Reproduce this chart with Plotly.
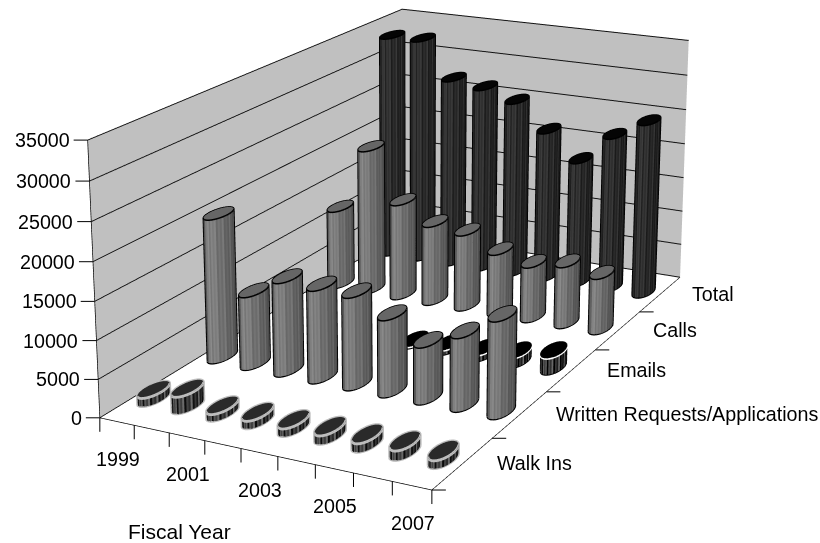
import numpy as np
import plotly.graph_objects as go

years = [1999, 2000, 2001, 2002, 2003, 2004, 2005, 2006, 2007]
x_tick_labels = ["1999", "", "2001", "", "2003", "", "2005", "", "2007"]
z_tick_values = [0, 5000, 10000, 15000, 20000, 25000, 30000, 35000]
row_names = ["Walk Ins", "Written Requests/Applications", "Emails", "Calls", "Total"]
walk_ins = [1200, 2300, 1000, 1100, 1100, 1200, 1200, 1300, 1100]
written = [19500, 9900, 12600, 12400, 12300, 10200, 7500, 9600, 12600]
emails = [0, 0, 0, 0, 400, 800, 1000, 1500, 2400]
calls = [11400, 20900, 13800, 11400, 10900, 8900, 7850, 8700, 7850]
total = [33000, 33100, 27800, 27100, 25700, 22000, 18300, 22500, 25100]

W, H = 820, 543
# camera of the 3-D view, expressed in the scene's unit space
EYE = np.array([2.6821, -5.2801, 1.9058])
AZ, EL = 2.0415, -0.2818
ASPECT = np.array([1.0, 1.7818, 0.7780])
WB, HB, OX, OY = 1777, 1777, 475, 736   # drawing canvas and its offset in the window
FOC = HB / 2 / np.tan(np.pi / 8)
CX, CY = WB / 2 - OX, HB / 2 - OY
F = np.array([np.cos(EL) * np.cos(AZ), np.cos(EL) * np.sin(AZ), np.sin(EL)])
R = np.cross(F, [0, 0, 1]); R = R / np.linalg.norm(R)
U = np.cross(R, F)
CENTER = EYE + F * np.linalg.norm(EYE)

NX, NY, ZMAX = len(years), len(row_names), z_tick_values[-1]
sx, sy = ASPECT[0] / NX, ASPECT[1] / NY
ex = (EYE[0] + ASPECT[0] / 2) / sx
ey = (EYE[1] + ASPECT[1] / 2) / sy
RX, RY = 0.25, 0.19

def to_paper(x, y, z, dx=0, dy=0):
    n = (np.array([x / NX, y / NY, z / ZMAX]) - 0.5) * ASPECT
    v = n - EYE
    d = v @ F
    px = CX + FOC * (v @ R) / d
    py = CY - FOC * (v @ U) / d
    return (px + OX + dx) / WB, 1 - (py + OY + dy) / HB

def shade(base, amp, facing, i):
    return int(np.clip(base * (0.55 + 0.6 * facing) + amp * (1 if i % 2 else -1) * (0.5 + 0.5 * np.sin(i * 1.7)), 0, 255))

def cyl_traces(vals, row, base, amp, topc, linec, lw, ring=None):
    N = 48
    vx, vy, vz, I, J, K, FC = [], [], [], [], [], [], []
    lx, ly, lz, rx, ry, rz = [], [], [], [], [], []
    for c, v in enumerate(vals):
        if v <= 0:
            continue
        cx, cy = c + .5, row + .5
        o = len(vx)
        t = np.linspace(0, 2 * np.pi, N, endpoint=False)
        px = cx + RX * np.cos(t)
        py = cy + RY * np.sin(t)
        vx += list(px) * 2
        vy += list(py) * 2
        vz += [0] * N + [v] * N
        vx.append(cx); vy.append(cy); vz.append(v)
        dirv = np.array([(ex - cx) * sx, (ey - cy) * sy])
        dirv /= np.linalg.norm(dirv)
        for i in range(N):
            j = (i + 1) % N
            tm = t[i] + np.pi / N
            nrm = np.array([np.cos(tm) / RX / sx, np.sin(tm) / RY / sy])
            nrm /= np.linalg.norm(nrm)
            g = shade(base, amp, max(0, nrm @ dirv), i)
            col = f"rgb({g},{g},{g})"
            I += [o + i, o + j]; J += [o + j, o + N + j]; K += [o + N + i, o + N + i]; FC += [col, col]
            I.append(o + 2 * N); J.append(o + N + i); K.append(o + N + j); FC.append(topc)
        a, b = (ex - cx) / RX, (ey - cy) / RY
        phi = np.arctan2(b, a)
        dl = np.arccos(1 / np.hypot(a, b))
        t1, t2 = phi - dl, phi + dl
        arc = np.linspace(t1, t2, 30)
        full = np.linspace(0, 2 * np.pi, 61)
        k = 1.01
        lx += list(cx + k * RX * np.cos(full)) + [None]
        ly += list(cy + k * RY * np.sin(full)) + [None]
        lz += [v] * 61 + [None]
        lx += [cx + k * RX * np.cos(t1)] + list(cx + k * RX * np.cos(arc)) + [cx + k * RX * np.cos(t2), None]
        ly += [cy + k * RY * np.sin(t1)] + list(cy + k * RY * np.sin(arc)) + [cy + k * RY * np.sin(t2), None]
        lz += [v] + [0] * 30 + [v, None]
        if ring:
            rx += list(cx + k * RX * np.cos(arc)) + [None]
            ry += list(cy + k * RY * np.sin(arc)) + [None]
            rz += [max(v - ring[1], 0)] * 30 + [None]
    out = [go.Mesh3d(x=vx, y=vy, z=vz, i=I, j=J, k=K, facecolor=FC, flatshading=True,
                     lighting=dict(ambient=1, diffuse=0, specular=0, fresnel=0), hoverinfo="skip", showscale=False)]
    out.append(go.Scatter3d(x=lx, y=ly, z=lz, mode="lines", line=dict(color=linec, width=lw), hoverinfo="skip", showlegend=False))
    if ring:
        out.append(go.Scatter3d(x=rx, y=ry, z=rz, mode="lines", line=dict(color=ring[0], width=ring[2]), hoverinfo="skip", showlegend=False))
    return out

fig = go.Figure()
for tr in cyl_traces(total, 4, 45, 18, "#050505", "#000000", 3): fig.add_trace(tr)
for tr in cyl_traces(calls, 3, 115, 14, "#666666", "#000000", 3): fig.add_trace(tr)
for tr in cyl_traces(emails, 2, 50, 70, "#000000", "#000000", 2, ("#ffffff", 170, 4)): fig.add_trace(tr)
for tr in cyl_traces(written, 1, 115, 14, "#666666", "#000000", 3): fig.add_trace(tr)
for tr in cyl_traces(walk_ins, 0, 60, 55, "#2a2a2a", "#bdbdbd", 5, ("#c8c8c8", 120, 2.5)): fig.add_trace(tr)

FONT = dict(family="Liberation Sans", size=19.7, color="black")
ann = []
for i, l in enumerate(x_tick_labels):
    if l:
        ann.append(dict(x=i + .5, y=0, z=0, text=l, showarrow=False, xshift=1, yshift=-37, font=FONT))
row_label_shift = [32, 34, 34, 33, 30]
for j, l in enumerate(row_names):
    ann.append(dict(x=NX, y=j + .5, z=0, text=l, showarrow=False, xanchor="left", xshift=row_label_shift[j], font=FONT))
for v in z_tick_values:
    ann.append(dict(x=0, y=0, z=v, text=str(v), showarrow=False, xanchor="right", xshift=-16, font=FONT))

def axis(rng, bg, grid=False, vals=None):
    return dict(range=rng, tickvals=vals, showticklabels=False, ticks="",
                showgrid=grid, gridcolor="#111111", gridwidth=2, showline=True, linecolor="black", linewidth=1.5,
                zeroline=False, showbackground=True, backgroundcolor=bg, title=dict(text=""), showspikes=False, autorange=False)

scene = dict(domain=dict(x=[0, 1], y=[0, 1]), aspectmode="manual",
             aspectratio=dict(x=float(ASPECT[0]), y=float(ASPECT[1]), z=float(ASPECT[2])),
             camera=dict(eye=dict(x=float(EYE[0]), y=float(EYE[1]), z=float(EYE[2])),
                         center=dict(x=float(CENTER[0]), y=float(CENTER[1]), z=float(CENTER[2])),
                         up=dict(x=0, y=0, z=1), projection=dict(type="perspective")),
             xaxis=axis([0, NX], "#c0c0c0"),
             yaxis=axis([0, NY], "#c0c0c0"),
             zaxis=axis([0, ZMAX], "#ffffff", True, z_tick_values),
             annotations=ann)

shapes = []
def tick(x, y, z, dx, dy):
    x0, y0 = to_paper(x, y, z)
    x1, y1 = to_paper(x, y, z, dx, dy)
    shapes.append(dict(type="line", xref="paper", yref="paper", x0=x0, y0=y0, x1=x1, y1=y1, line=dict(color="black", width=1)))
for i in range(NX + 1):
    tick(i, 0, 0, 0, 14)
for j in range(NY):
    tick(NX, j, 0, 14, 0)
for v in z_tick_values:
    tick(0, 0, v, -14, 0)

fig.update_layout(width=WB, height=HB, margin=dict(l=0, r=0, t=0, b=0), paper_bgcolor="white", showlegend=False, scene=scene, shapes=shapes,
    annotations=[dict(x=(179.5 + OX) / WB, y=1 - (531 + OY) / HB, xref="paper", yref="paper", xanchor="center", yanchor="middle",
                      text="Fiscal Year", showarrow=False, font=dict(family="Liberation Sans", size=21, color="black"))])
fig.write_html("out.html", config=dict(displayModeBar=False),
    post_script=f"document.body.style.margin='0';document.documentElement.style.overflow='hidden';document.body.style.overflow='hidden';document.body.style.width='820px';document.body.style.height='543px';var g=document.querySelector('.plotly-graph-div');g.style.position='absolute';g.style.left='{-OX}px';g.style.top='{-OY}px';")
